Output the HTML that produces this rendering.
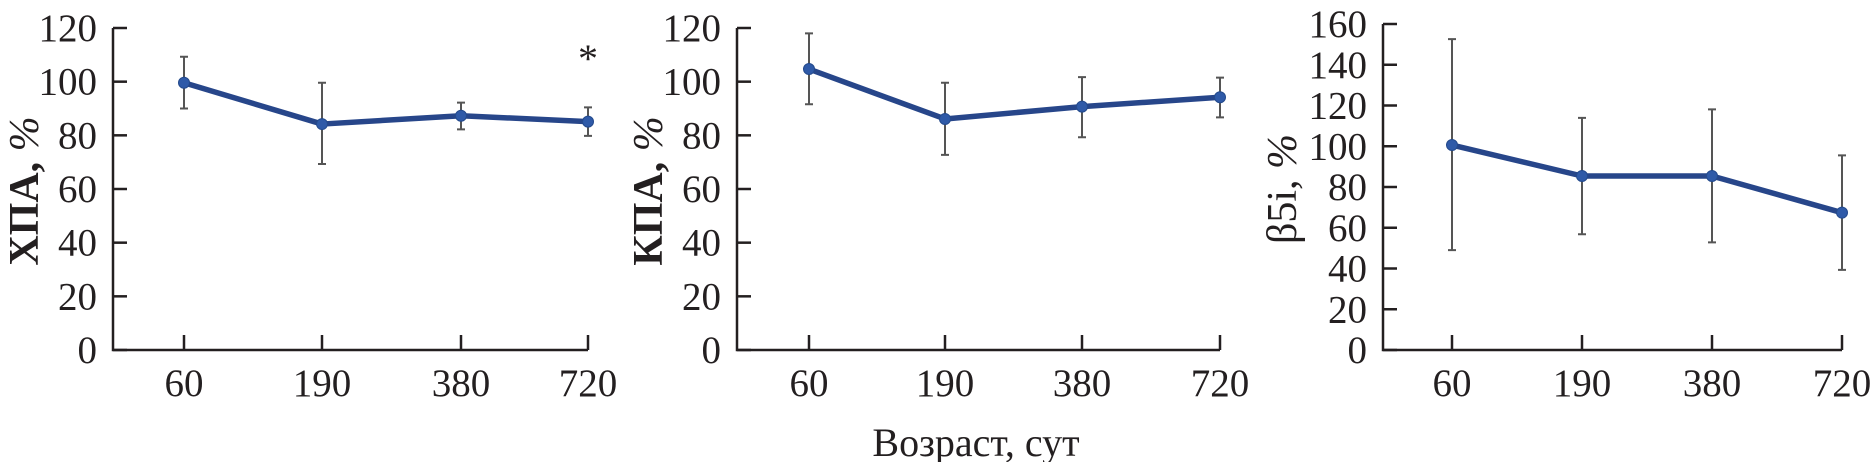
<!DOCTYPE html>
<html><head><meta charset="utf-8"><style>
html,body{margin:0;padding:0;background:#fff}
svg text{font-family:"Liberation Serif","DejaVu Serif",serif;fill:#231f20}
</style></head><body>
<svg id="fig" width="1872" height="462" viewBox="0 0 1872 462" xmlns="http://www.w3.org/2000/svg">
<text x="976" y="456" font-size="40" text-anchor="middle">Возраст, сут</text>
</svg>
<script>
const categories = ["60","190","380","720"];
const hpaValues = [99.6, 84.2, 87.3, 85.1];
const hpaErrUp = [109.3, 99.6, 92.2, 90.4];
const hpaErrLow = [90, 69.3, 82.2, 79.8];
const kpaValues = [104.7, 86.1, 90.7, 94.2];
const kpaErrUp = [118, 99.6, 101.7, 101.5];
const kpaErrLow = [91.6, 72.7, 79.3, 86.7];
const b5iValues = [100.6, 85.4, 85.4, 67.4];
const b5iErrUp = [152.6, 113.9, 118.1, 95.5];
const b5iErrLow = [49, 56.8, 52.8, 39.3];
const ticks120 = [0,20,40,60,80,100,120];
const ticks160 = [0,20,40,60,80,100,120,140,160];

const NS = "http://www.w3.org/2000/svg";
const svg = document.getElementById('fig');
function mk(tag, attrs, parent){
  const e = document.createElementNS(NS, tag);
  for (const k in attrs) e.setAttribute(k, attrs[k]);
  (parent||svg).appendChild(e);
  return e;
}
const panels = [
  {id:'hpa', title:'ХПА, ', x0:113, x1:588, xt:[184,322,461,588], ymax:120, ticks:ticks120, v:hpaValues, up:hpaErrUp, lo:hpaErrLow, tx:38, star:true, bold:true},
  {id:'kpa', title:'КПА, ', x0:737, x1:1220, xt:[809,945,1082,1220], ymax:120, ticks:ticks120, v:kpaValues, up:kpaErrUp, lo:kpaErrLow, tx:662, star:false, bold:true},
  {id:'b5i', title:'β5i, ', x0:1383, x1:1842, xt:[1452,1582,1712,1842], ymax:160, ticks:ticks160, v:b5iValues, up:b5iErrUp, lo:b5iErrLow, tx:1296, star:false, bold:false}
];
const y0 = 350;
panels.forEach(p => {
  const g = mk('g', {});
  
  
  const top = p.ymax===160 ? 24 : 28;
  const yS = v => y0 - (v / p.ymax) * (y0 - top);
  const xS = i => p.xt[i];
  const ax = mk('path', {d:`M${p.x0},${yS(p.ymax)} V${y0} H${p.x1}`, stroke:'#231f20', 'stroke-width':2.5, fill:'none'}, g);
  
  
  p.ticks.forEach(t => {
    const y = yS(t);
    mk('line', {x1:p.x0, x2:p.x0+14, y1:y, y2:y, stroke:'#231f20', 'stroke-width':2.5}, g);
    const tl = mk('text', {x:p.x0-16, y:y+13, 'font-size':39, 'text-anchor':'end'}, g);
    tl.textContent = t;
    
    
  });
  categories.forEach((c, i) => {
    const x = xS(i);
    mk('line', {x1:x, x2:x, y1:y0, y2:y0-15, stroke:'#231f20', 'stroke-width':2.5}, g);
    const tl = mk('text', {x:x, y:396, 'font-size':39, 'text-anchor':'middle'}, g);
    tl.textContent = c;
    
    
  });
  const yt = mk('text', {x:0, y:0, 'font-size':42, 'text-anchor':'middle', transform:`translate(${p.tx},${yS(p.ymax/2)+2}) rotate(-90)`}, g);
  
  
  const s1 = mk('tspan', {'font-weight': p.bold?'bold':'normal'}, yt);
  s1.textContent = p.title;
  const s2 = mk('tspan', {'font-style':'italic'}, yt);
  s2.textContent = '%';
  p.v.forEach((v, i) => {
    const x = xS(i);
    const eb = mk('path', {d:`M${x},${yS(p.up[i])} V${yS(p.lo[i])} M${x-4},${yS(p.up[i])} H${x+4} M${x-4},${yS(p.lo[i])} H${x+4}`, stroke:'#555', 'stroke-width':2, fill:'none'}, g);
    
    
  });
  const line = mk('polyline', {points:p.v.map((v,i)=>`${xS(i)},${yS(v)}`).join(' '), stroke:'#27468a', 'stroke-width':5.5, fill:'none', 'stroke-linejoin':'round'}, g);
  
  
  p.v.forEach((v, i) => {
    const pt = mk('circle', {cx:xS(i), cy:yS(v), r:5.5, fill:'#2f5aa8', stroke:'#244a8c', 'stroke-width':1}, g);
    
    
  });
  if (p.star) {
    const s = mk('text', {x:p.x1, y:72, 'font-size':40, 'text-anchor':'middle'}, g);
    s.textContent = '*';
    
    
  }
});
</script>
</body></html>
